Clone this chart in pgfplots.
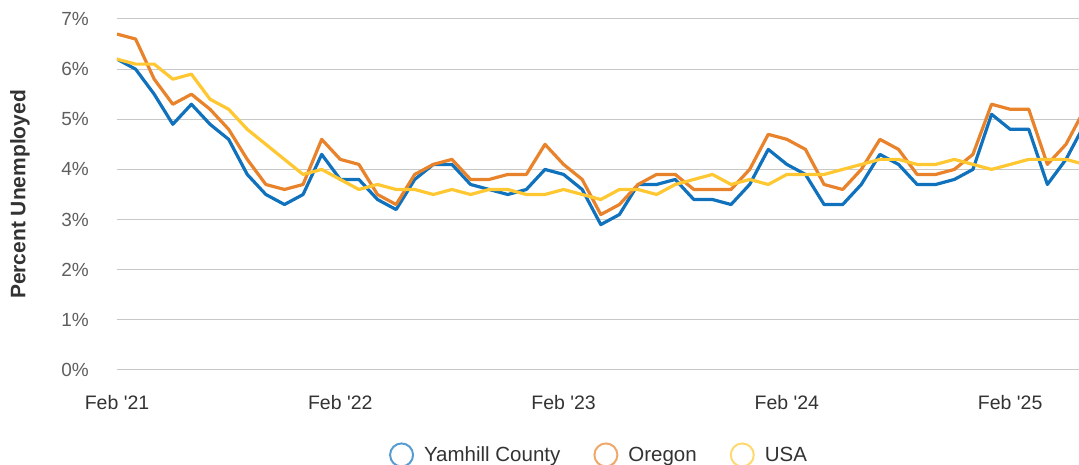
\documentclass[border=0pt]{standalone}
\usepackage{fontspec}
\setmainfont{Liberation Sans}
\usepackage{pgfplots}
\pgfplotsset{compat=1.18}
\definecolor{cblue}{RGB}{16,114,189}
\definecolor{corange}{RGB}{232,130,43}
\definecolor{cyellow}{RGB}{255,200,50}
\definecolor{gridgray}{RGB}{200,200,200}
\definecolor{txt}{RGB}{51,51,51}
\definecolor{ytxt}{RGB}{95,95,95}

\pgfplotstableread{
i yam ore usa
0 6.2 6.7 6.2
1 6.0 6.6 6.1
2 5.5 5.8 6.1
3 4.9 5.3 5.8
4 5.3 5.5 5.9
5 4.9 5.2 5.4
6 4.6 4.8 5.2
7 3.9 4.2 4.8
8 3.5 3.7 4.5
9 3.3 3.6 4.2
10 3.5 3.7 3.9
11 4.3 4.6 4.0
12 3.8 4.2 3.8
13 3.8 4.1 3.6
14 3.4 3.5 3.7
15 3.2 3.3 3.6
16 3.8 3.9 3.6
17 4.1 4.1 3.5
18 4.1 4.2 3.6
19 3.7 3.8 3.5
20 3.6 3.8 3.6
21 3.5 3.9 3.6
22 3.6 3.9 3.5
23 4.0 4.5 3.5
24 3.9 4.1 3.6
25 3.6 3.8 3.5
26 2.9 3.1 3.4
27 3.1 3.3 3.6
28 3.7 3.7 3.6
29 3.7 3.9 3.5
30 3.8 3.9 3.7
31 3.4 3.6 3.8
32 3.4 3.6 3.9
33 3.3 3.6 3.7
34 3.7 4.0 3.8
35 4.4 4.7 3.7
36 4.1 4.6 3.9
37 3.9 4.4 3.9
38 3.3 3.7 3.9
39 3.3 3.6 4.0
40 3.7 4.0 4.1
41 4.3 4.6 4.2
42 4.1 4.4 4.2
43 3.7 3.9 4.1
44 3.7 3.9 4.1
45 3.8 4.0 4.2
46 4.0 4.3 4.1
47 5.1 5.3 4.0
48 4.8 5.2 4.1
49 4.8 5.2 4.2
50 3.7 4.1 4.2
51 4.2 4.5 4.2
52 4.9 5.2 4.1
}\datatable

\begin{document}
\begin{tikzpicture}
\begin{axis}[
  at={(117pt,95pt)}, anchor=south west,
  scale only axis, width=962pt, height=351pt,
  xmin=0, xmax=51.7, ymin=0, ymax=7,
  axis line style={draw=none},
  major tick length=0pt,
  ymajorgrids, grid style={gridgray, line width=1pt},
  ytick={0,1,2,3,4,5,6,7},
  yticklabels={0\%,1\%,2\%,3\%,4\%,5\%,6\%,7\%},
  xtick={0,12,24,36,48},
  xticklabels={Feb \textquotesingle21,Feb \textquotesingle22,Feb \textquotesingle23,Feb \textquotesingle24,Feb \textquotesingle25},
  yticklabel style={font=\fontsize{19}{22}\selectfont, text=ytxt, inner sep=0pt, anchor=east, xshift=-28pt},
  xticklabel style={font=\fontsize{19.5}{23}\selectfont, text=txt, inner sep=0pt, anchor=north, yshift=-25pt},
  ylabel={Percent Unemployed},
  ylabel style={at={(axis description cs:-0.101,0.5)}, anchor=center, rotate=0, font=\fontsize{21}{24}\bfseries\selectfont, text=txt},
  legend columns=3,
  legend style={at={(axis description cs:0.5,-0.242)}, anchor=center, draw=none, fill=none,
    font=\fontsize{20.5}{24}\selectfont, text=txt, nodes={inner sep=0pt},
    /tikz/every odd column/.append style={column sep=10pt},
    /tikz/every even column/.append style={column sep=33pt}},
  legend image code/.code={\draw[#1, line width=2pt, draw opacity=0.7] (11.5pt,0pt) circle (11.5pt);},
  every axis plot/.append style={line width=3.2pt, line join=round, mark=none},
]
\addplot[cblue] table[x=i, y=yam] {\datatable};
\addplot[corange] table[x=i, y=ore] {\datatable};
\addplot[cyellow] table[x=i, y=usa] {\datatable};
\legend{Yamhill County, Oregon, USA}
\end{axis}
\pgfresetboundingbox
\useasboundingbox (0,0) rectangle (1079pt,465pt);
\end{tikzpicture}
\end{document}
